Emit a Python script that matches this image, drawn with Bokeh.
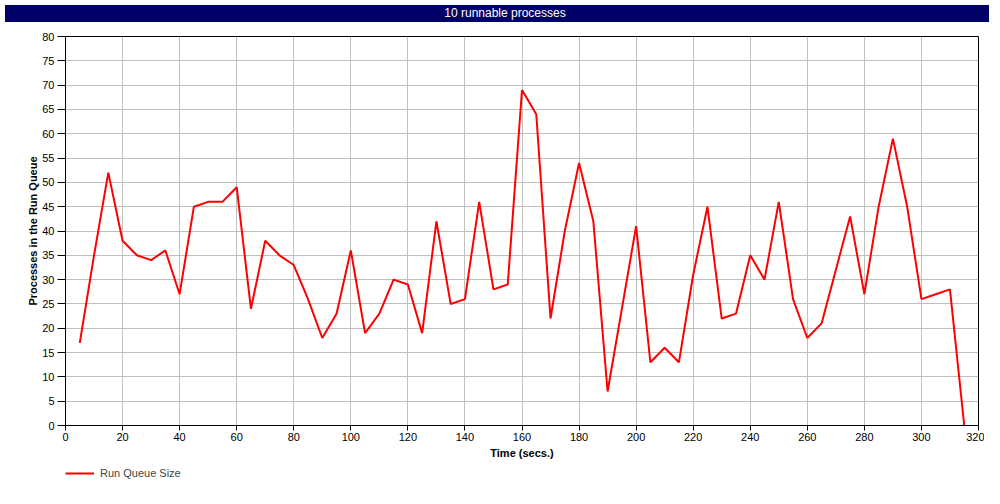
from bokeh.plotting import figure
from bokeh.layouts import column
from bokeh.models import Range1d, Legend, LegendItem, FixedTicker, Div
from bokeh.embed import file_html
from bokeh.resources import INLINE

# ---- data ----
time_secs = [5, 10, 15, 20, 25, 30, 35, 40, 45, 50, 55, 60, 65, 70, 75, 80, 85, 90, 95, 100,
             105, 110, 115, 120, 125, 130, 135, 140, 145, 150, 155, 160, 165, 170, 175, 180,
             185, 190, 195, 200, 205, 210, 215, 220, 225, 230, 235, 240, 245, 250, 255, 260,
             265, 270, 275, 280, 285, 290, 295, 300, 305, 310, 315]
run_queue = [17, 35, 52, 38, 35, 34, 36, 27, 45, 46, 46, 49, 24, 38, 35, 33, 26, 18, 23, 36,
             19, 23, 30, 29, 19, 42, 25, 26, 46, 28, 29, 69, 64, 22, 40, 54,
             42, 7, 24, 41, 13, 16, 13, 31, 45, 22, 23, 35, 30, 46, 26, 18,
             21, 32, 43, 27, 45, 59, 45, 26, 27, 28, 0]
x_ticks = list(range(0, 321, 20))
y_ticks = list(range(0, 81, 5))
title_text = "10 runnable processes"
series_name = "Run Queue Size"
x_label = "Time (secs.)"
y_label = "Processes in the Run Queue"

FONT = "Liberation Sans"
NAVY = "#000066"
W = 984
BL, BR = 65, 6

# ---- title band ----
title_div = Div(text=title_text, width=W, height=17,
                styles={"background-color": NAVY, "color": "white",
                        "text-align": "center", "font-family": FONT,
                        "font-size": "12px", "line-height": "17px",
                        "text-indent": "16px", "overflow": "hidden"})

# ---- main chart ----
p = figure(width=W, height=434, output_backend="svg", toolbar_location=None,
           x_range=Range1d(0, 320), y_range=Range1d(0, 80),
           min_border_left=BL, min_border_right=BR, min_border_top=9, min_border_bottom=36)

p.outline_line_color = "black"
p.outline_line_width = 1
p.background_fill_color = "white"
p.border_fill_color = "white"

r = p.line(time_secs, run_queue, line_color="#ff0000", line_width=2)

for ax in (p.xaxis[0], p.yaxis[0]):
    ax.axis_line_color = "black"
    ax.major_tick_line_color = "black"
    ax.major_tick_in = 0
    ax.minor_tick_line_color = None
    ax.major_label_text_font = FONT
    ax.major_label_text_font_size = "11px"
    ax.major_label_text_color = "black"
    ax.axis_label_text_font = FONT
    ax.axis_label_text_font_size = "11px"
    ax.axis_label_text_font_style = "bold"
    ax.axis_label_text_color = "black"

p.xaxis.major_tick_out = 5
p.xaxis.major_label_standoff = 2
p.yaxis.major_tick_out = 8
p.yaxis.major_label_standoff = 3

p.xaxis.ticker = FixedTicker(ticks=x_ticks)
p.yaxis.ticker = FixedTicker(ticks=y_ticks)
p.xaxis.axis_label = x_label
p.yaxis.axis_label = y_label
p.xaxis.axis_label_standoff = 3
p.yaxis.axis_label_standoff = 0

p.grid.grid_line_color = "#c0c0c0"
p.grid.grid_line_width = 1

# ---- legend strip ----
lf = figure(width=W, height=27, output_backend="svg", toolbar_location=None,
            x_range=Range1d(0, 1), y_range=Range1d(0, 1),
            x_axis_type=None, y_axis_type=None,
            min_border_left=BL, min_border_right=BR, min_border_top=0, min_border_bottom=0)
lf.outline_line_color = None
lf.grid.visible = False
# proxy renderer (kept outside the visible range) that only supplies the legend swatch
lr = lf.line(x=[0, 1], y=[-5, -5], line_color="#ff0000", line_width=2)
legend = Legend(items=[LegendItem(label=series_name, renderers=[lr])],
                location=(0, 9), orientation="horizontal",
                label_text_font=FONT, label_text_font_size="11px",
                glyph_width=29, glyph_height=12, label_height=12, label_standoff=6,
                padding=0, margin=0, border_line_color=None, background_fill_alpha=0)
lf.add_layout(legend, "center")

layout = column(title_div, p, lf, spacing=0)
open("out.html", "w").write(file_html(layout, INLINE))
